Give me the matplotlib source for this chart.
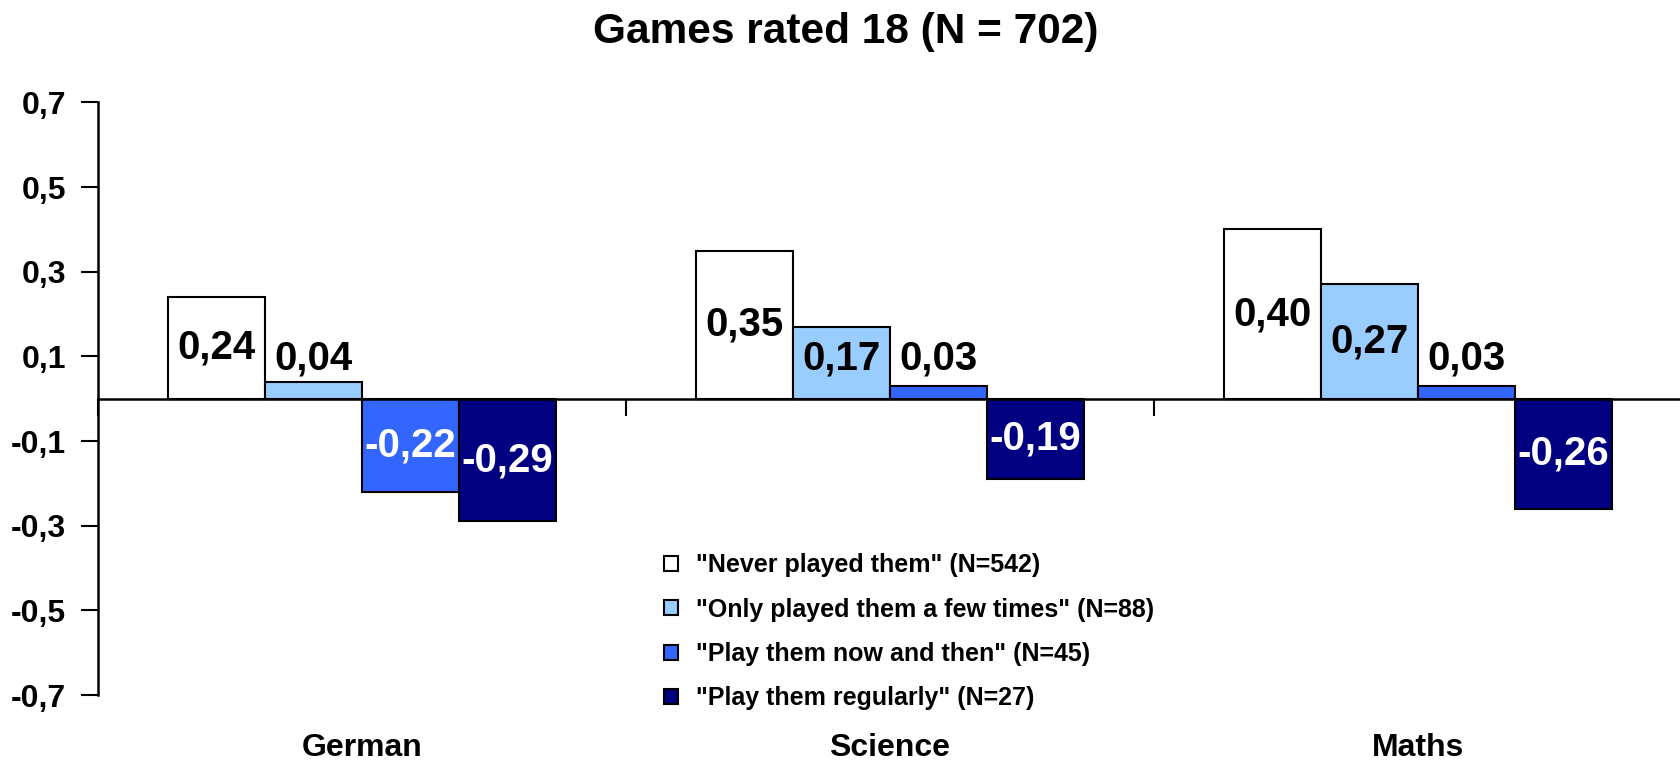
import numpy as np
import matplotlib
matplotlib.use('Agg')
import matplotlib.pyplot as plt
from matplotlib.ticker import FuncFormatter

plt.rcParams['font.family'] = ['Liberation Sans', 'DejaVu Sans']
plt.rcParams['font.weight'] = 'bold'

subjects = ['German', 'Science', 'Maths']
groups = ['"Never played them" (N=542)',
          '"Only played them a few times" (N=88)',
          '"Play them now and then" (N=45)',
          '"Play them regularly" (N=27)']
never = [0.24, 0.35, 0.40]
few_times = [0.04, 0.17, 0.27]
now_and_then = [-0.22, 0.03, 0.03]
regularly = [-0.29, -0.19, -0.26]

series = [never, few_times, now_and_then, regularly]
colors = ['#FFFFFF', '#99CCFF', '#3366FF', '#000080']
dark = [False, False, True, True]

fig = plt.figure(figsize=(16.8, 7.61), dpi=100)
ax = fig.add_axes([98 / 1680, 1 - 695 / 761, (1682 - 98) / 1680, (695 - 102.5) / 761])

x = np.arange(len(subjects))
width = 0.184
min_off = 0.094
for i, (vals, col, lab) in enumerate(zip(series, colors, groups)):
    pos = x + (i - 1.5) * width
    ax.bar(pos, vals, width, color=col, edgecolor='black', linewidth=1.5,
           label=lab, zorder=3)
    for px, v in zip(pos, vals):
        # labels sit in the middle of the bar, or just above the axis when the bar is small
        inside = abs(v) / 2 >= min_off
        ty = np.sign(v) * max(abs(v) / 2, min_off)
        tcol = 'white' if (dark[i] and inside) else 'black'
        ax.text(px, ty, f'{v:.2f}'.replace('.', ','), ha='center', va='center',
                fontsize=29, fontweight='bold', color=tcol, zorder=4)

ax.set_xlim(-0.5, 2.5)
ax.set_ylim(-0.7, 0.7)
ax.set_yticks(np.arange(-0.7, 0.71, 0.2))
ax.yaxis.set_major_formatter(FuncFormatter(lambda v, p: f'{v:.1f}'.replace('.', ',')))
ax.tick_params(axis='y', direction='out', length=12, width=1.5, pad=11,
               labelsize=23)

for s in ['top', 'right']:
    ax.spines[s].set_visible(False)
ax.spines['left'].set_linewidth(1.8)
ax.spines['bottom'].set_position(('data', 0))
ax.spines['bottom'].set_linewidth(1.8)
ax.spines['bottom'].set_zorder(5)
ax.set_xticks([-0.5, 0.5, 1.5, 2.5])
ax.set_xticklabels([])
ax.tick_params(axis='x', direction='out', length=12, width=1.5)

sec = ax.secondary_xaxis('bottom')
sec.set_xticks(x, subjects)
sec.tick_params(length=0, pad=27, labelsize=23)
sec.spines['bottom'].set_visible(False)

fig.text(846 / 1680, 1 - 32 / 761, 'Games rated 18 (N = 702)', ha='center', va='center',
         fontsize=30.5, fontweight='bold')

ax.legend(loc='upper left', bbox_to_anchor=(664 / 1680, 1 - 553 / 761),
          bbox_transform=fig.transFigure, frameon=False, fontsize=18,
          handlelength=0.55, handleheight=0.55, handletextpad=0.75,
          labelspacing=0.82, borderpad=0, borderaxespad=0)

fig.savefig('out.png', dpi=100)
